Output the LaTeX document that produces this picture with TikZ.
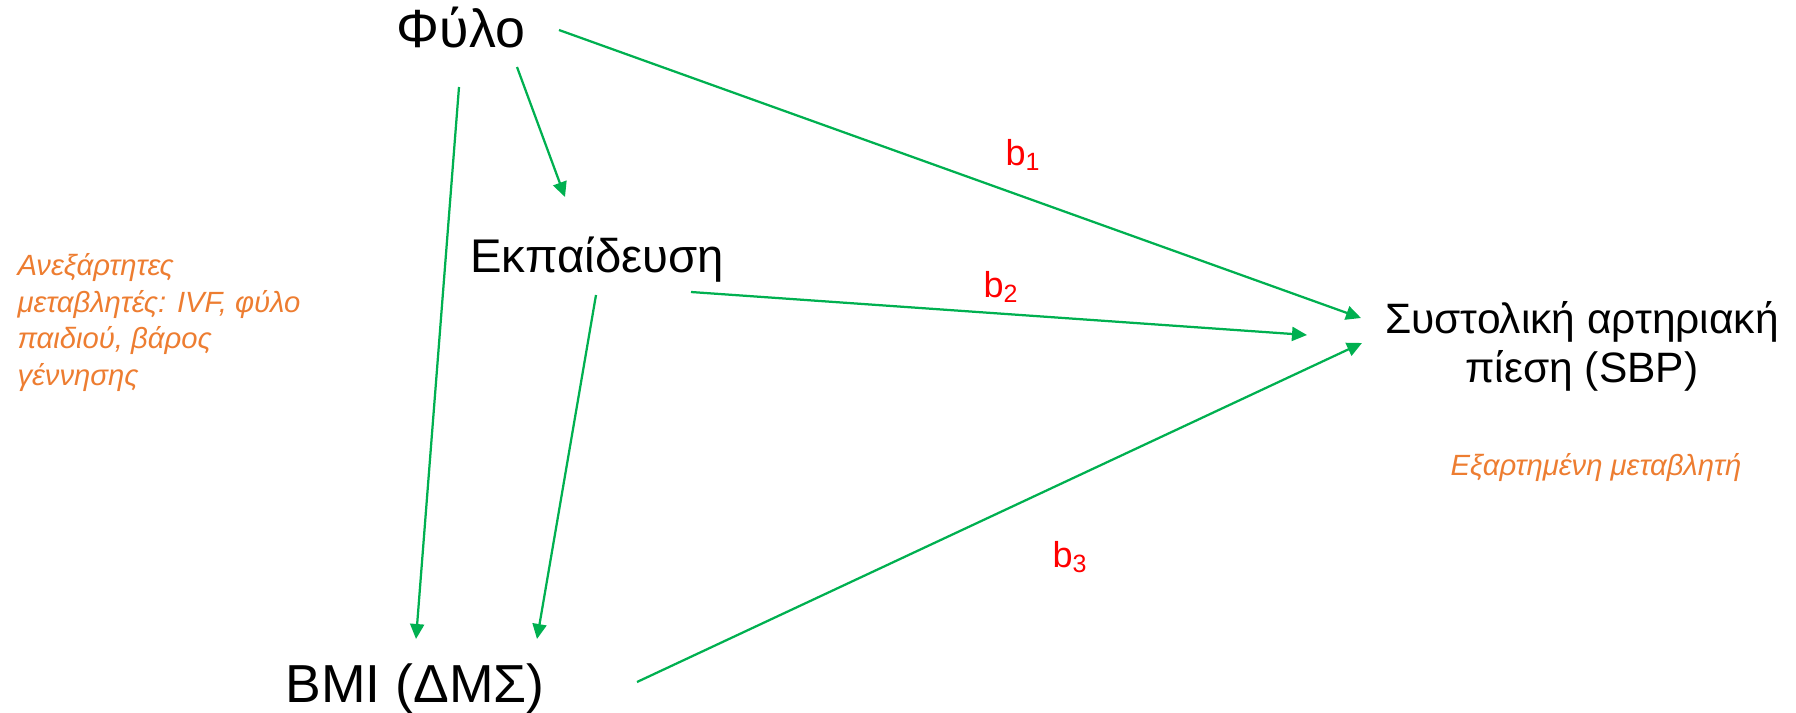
\documentclass[tikz,border=0pt]{standalone}
\usepackage{fontspec}
\setmainfont{Liberation Sans}
\usepackage{xcolor}
\usetikzlibrary{arrows.meta, positioning, calc}
\definecolor{pathgreen}{HTML}{00B050}
\definecolor{noteorange}{HTML}{ED7D31}
\definecolor{coefred}{HTML}{FF0000}
\begin{document}
\begin{tikzpicture}[x=0.4pt, y=-0.4pt, inner sep=0pt,
  link/.style={draw=pathgreen, line width=0.9pt, -{Triangle[length=6pt, width=5.6pt]}},
  coef/.style={text=coefred, font=\fontsize{14.4}{17}\selectfont, anchor=base west},
  note/.style={text=noteorange, font=\fontsize{11.7}{14.6}\selectfont\itshape}]
\useasboundingbox (0,0) rectangle (1796,713);
\node (fylo) [anchor=base, font=\fontsize{21.5}{25}\selectfont] at (461,48) {Φύλο};
\node (ekp) [anchor=base, font=\fontsize{18.9}{22}\selectfont] at (597,272) {Εκπαίδευση};
\node (bmi) [anchor=base, font=\fontsize{21.4}{25}\selectfont] at (415,702) {BMI (ΔΜΣ)};
\node (sbp) [anchor=base, align=center, font=\fontsize{17}{19.6}\selectfont] at (1582,382) {Συστολική αρτηριακή\\πίεση (SBP)};
\node (indep) [note, anchor=base west, align=left] at (17,385) {Ανεξάρτητες\\μεταβλητές: IVF, φύλο\\παιδιού, βάρος\\γέννησης};
\node (dep) [note, anchor=base] at (1596,475) {Εξαρτημένη μεταβλητή};
\node (b1) [coef] at (1005,165) {b\textsubscript{1}};
\node (b2) [coef] at (983,297) {b\textsubscript{2}};
\node (b3) [coef] at (1052,567) {b\textsubscript{3}};

\draw [link] ($(fylo.base)+(98,-18)$) -- ($(sbp.base)+(-221,-64)$);
\draw [link] ($(fylo.base)+(56,19)$) -- ($(ekp.base)+(-32,-75)$);
\draw [link] ($(fylo.base)+(-2,39)$) -- ($(bmi.base)+(1,-63)$);
\draw [link] ($(ekp.base)+(-1,23)$) -- ($(bmi.base)+(122,-63)$);
\draw [link] ($(ekp.base)+(94,20)$) -- ($(sbp.base)+(-275,-47)$);
\draw [link] ($(bmi.base)+(222,-20)$) -- ($(sbp.base)+(-220,-39)$);
\end{tikzpicture}
\end{document}
